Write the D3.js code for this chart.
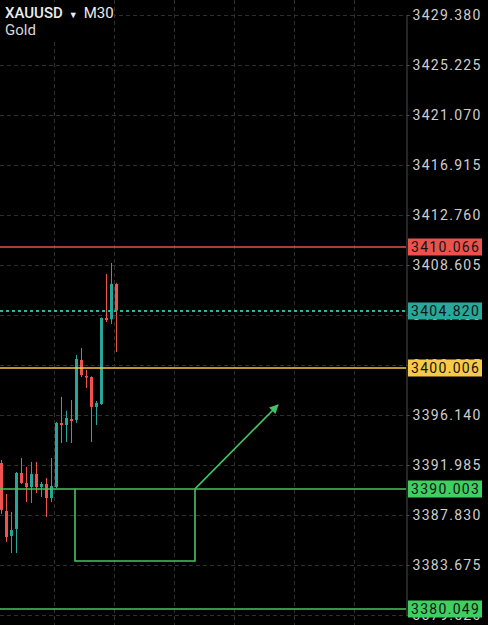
<!DOCTYPE html>
<html>
<head>
<meta charset="utf-8">
<script src="https://cdn.jsdelivr.net/npm/d3@7"></script>
<style>
  html, body { margin: 0; padding: 0; background: #000; }
  svg { display: block; }
</style>
</head>
<body>
<script>
// XAUUSD M30 candles
const opens  = [3392.15, 3388.16, 3386.09, 3386.67, 3391.32, 3390.49, 3390.16, 3391.24, 3390.16, 3390.41, 3389.24, 3390.16,
                3395.48, 3395.31, 3395.81, 3395.73, 3400.71, 3399.38, 3399.30, 3396.81, 3397.05, 3404.20, 3404.10, 3407.03];
const highs  = [3392.40, 3389.58, 3388.08, 3391.40, 3392.57, 3391.82, 3392.24, 3392.24, 3390.57, 3390.91, 3392.57, 3395.56,
                3397.64, 3396.50, 3397.39, 3401.13, 3401.71, 3399.88, 3399.35, 3397.30, 3404.25, 3407.86, 3408.77, 3407.10];
const lows   = [3387.90, 3385.59, 3384.67, 3384.67, 3390.41, 3388.91, 3388.83, 3389.66, 3389.33, 3387.67, 3388.91, 3390.07,
                3393.81, 3393.90, 3393.81, 3395.48, 3399.30, 3398.38, 3393.90, 3395.31, 3396.97, 3403.87, 3403.70, 3401.38];
const closes = [3388.25, 3386.00, 3386.58, 3391.32, 3390.49, 3390.16, 3391.24, 3390.16, 3390.41, 3389.24, 3390.24, 3395.48,
                3395.31, 3395.89, 3395.64, 3400.79, 3399.46, 3399.30, 3396.81, 3397.14, 3404.20, 3404.03, 3407.03, 3404.82];

// price scale ticks
const tickPrices = [3429.380, 3425.225, 3421.070, 3416.915, 3412.760, 3408.605, 3404.450,
                    3400.295, 3396.140, 3391.985, 3387.830, 3383.675, 3379.520];

// time grid (in bar units)
const gridBars = [10.66, 22.66, 34.66, 46.66, 58.66, 70.66];

// horizontal levels
const levelPrices = [3410.066, 3404.820, 3400.006, 3390.003, 3380.049];
const levelColors = ["#e5514b", "#2fb3a6", "#f6c846", "#43c463", "#43c463"];
const labelColors = ["#e9534c", "#2aa79b", "#f7c948", "#3fcf61", "#3fcf61"];

// drawn pattern: box + arrow
const boxBars   = [14.8, 14.8, 38.8, 38.8];
const boxPrices = [3390.003, 3384.01, 3384.01, 3390.003];
const arrowBars   = [38.8, 55.4];
const arrowPrices = [3390.003, 3396.97];

const width = 488, height = 625;
const axisX = 406;

const svg = d3.select("body").append("svg")
    .attr("width", width)
    .attr("height", height)
    .style("background", "#000");

const x = d3.scaleLinear().domain([0, 81]).range([1, axisX]);
const y = d3.scaleLinear().domain([3429.38, 3379.52]).range([15, 615]);

const up = "#26a69a", down = "#ef5350";
const font = "Roboto, 'Liberation Sans', sans-serif";

// grid
const grid = svg.append("g").attr("class", "grid");
grid.selectAll(".hgrid")
    .data(tickPrices).enter()
    .append("line")
    .attr("x1", 0).attr("x2", axisX)
    .attr("y1", d => Math.round(y(d)) + 0.5)
    .attr("y2", d => Math.round(y(d)) + 0.5)
    .attr("stroke", "#2e2e2e")
    .attr("stroke-dasharray", "4,3");
grid.selectAll(".vgrid")
    .data(gridBars).enter()
    .append("line")
    .attr("x1", d => Math.round(x(d)) + 0.5)
    .attr("x2", d => Math.round(x(d)) + 0.5)
    .attr("y1", 0).attr("y2", height)
    .attr("stroke", "#2e2e2e")
    .attr("stroke-dasharray", "4,3");

// candles
const candles = svg.append("g").attr("class", "candles");
const idx = d3.range(opens.length);
candles.selectAll(".wick")
    .data(idx).enter()
    .append("line")
    .attr("x1", i => Math.round(x(i)) + 0.5)
    .attr("x2", i => Math.round(x(i)) + 0.5)
    .attr("y1", i => y(highs[i]))
    .attr("y2", i => y(lows[i]))
    .attr("stroke", i => closes[i] >= opens[i] ? up : down)
    .attr("stroke-width", 1);
candles.selectAll(".body")
    .data(idx).enter()
    .append("rect")
    .attr("x", i => Math.round(x(i)) - 1)
    .attr("width", 3)
    .attr("y", i => y(Math.max(opens[i], closes[i])))
    .attr("height", i => Math.max(1.5, Math.abs(y(opens[i]) - y(closes[i]))))
    .attr("fill", i => closes[i] >= opens[i] ? up : down);

// level lines
svg.append("g").selectAll("line")
    .data(levelPrices).enter()
    .append("line")
    .attr("x1", 0).attr("x2", axisX)
    .attr("y1", d => Math.round(y(d)))
    .attr("y2", d => Math.round(y(d)))
    .attr("stroke", (d, i) => levelColors[i])
    .attr("stroke-width", (d, i) => i === 1 ? 2 : 1.5)
    .attr("stroke-dasharray", (d, i) => i === 1 ? "3,3" : null);

// box + arrow
const green = "#43c463";
const line = d3.line().x(d => x(d[0])).y(d => y(d[1]));
svg.append("path")
    .attr("d", line(boxBars.map((b, i) => [b, boxPrices[i]])))
    .attr("fill", "none")
    .attr("stroke", green)
    .attr("stroke-width", 1.6);

svg.append("defs").append("marker")
    .attr("id", "arrowhead")
    .attr("viewBox", "0 0 10 10")
    .attr("refX", 9).attr("refY", 5)
    .attr("markerWidth", 11).attr("markerHeight", 9)
    .attr("markerUnits", "userSpaceOnUse")
    .attr("orient", "auto")
    .append("path")
    .attr("d", "M0,0L10,5L0,10Z")
    .attr("fill", green);

svg.append("path")
    .attr("d", line(arrowBars.map((b, i) => [b, arrowPrices[i]])))
    .attr("fill", "none")
    .attr("stroke", green)
    .attr("stroke-width", 1.6)
    .attr("marker-end", "url(#arrowhead)");

// right price axis
svg.append("rect")
    .attr("x", axisX).attr("y", 0)
    .attr("width", width - axisX).attr("height", height)
    .attr("fill", "#000");

const axis = svg.append("g")
    .attr("transform", "translate(" + (axisX + 0.5) + ",0)")
    .call(d3.axisRight(y)
        .tickValues(tickPrices)
        .tickFormat(d3.format(".3f"))
        .tickSize(3)
        .tickPadding(3));
axis.select(".domain").attr("stroke", "#4a4a4a");
axis.selectAll(".tick line").attr("stroke", "#4a4a4a");
axis.selectAll(".tick text")
    .attr("fill", "#cfcfcf")
    .style("font-family", font)
    .style("font-size", "14px")
    .style("letter-spacing", "1.3px");

// price labels
const labels = svg.append("g").selectAll("g")
    .data(levelPrices).enter()
    .append("g")
    .attr("transform", d => "translate(" + (axisX + 2) + "," + Math.round(y(d)) + ")");
labels.append("rect")
    .attr("x", 0).attr("y", -8.5)
    .attr("width", 74).attr("height", 17)
    .attr("fill", (d, i) => labelColors[i]);
labels.append("text")
    .attr("x", 3).attr("dy", "0.35em")
    .attr("fill", "#141414")
    .style("font-family", font)
    .style("font-size", "14px")
    .style("letter-spacing", "1.3px")
    .text(d => d3.format(".3f")(d));

// symbol header
svg.append("rect")
    .attr("x", 0).attr("y", 2)
    .attr("width", 114).attr("height", 38)
    .attr("fill", "#000");
const title = svg.append("text")
    .attr("x", 5).attr("y", 18)
    .attr("fill", "#ececec")
    .style("font-family", font)
    .style("font-size", "15px");
title.append("tspan").style("font-weight", 500).text("XAUUSD");
title.append("tspan").attr("dx", 6).style("font-size", "9px").text("▼");
title.append("tspan").attr("dx", 6).text("M30");
svg.append("text")
    .attr("x", 5).attr("y", 35)
    .attr("fill", "#d8d8d8")
    .style("font-family", font)
    .style("font-size", "15px")
    .text("Gold");
</script>
</body>
</html>
